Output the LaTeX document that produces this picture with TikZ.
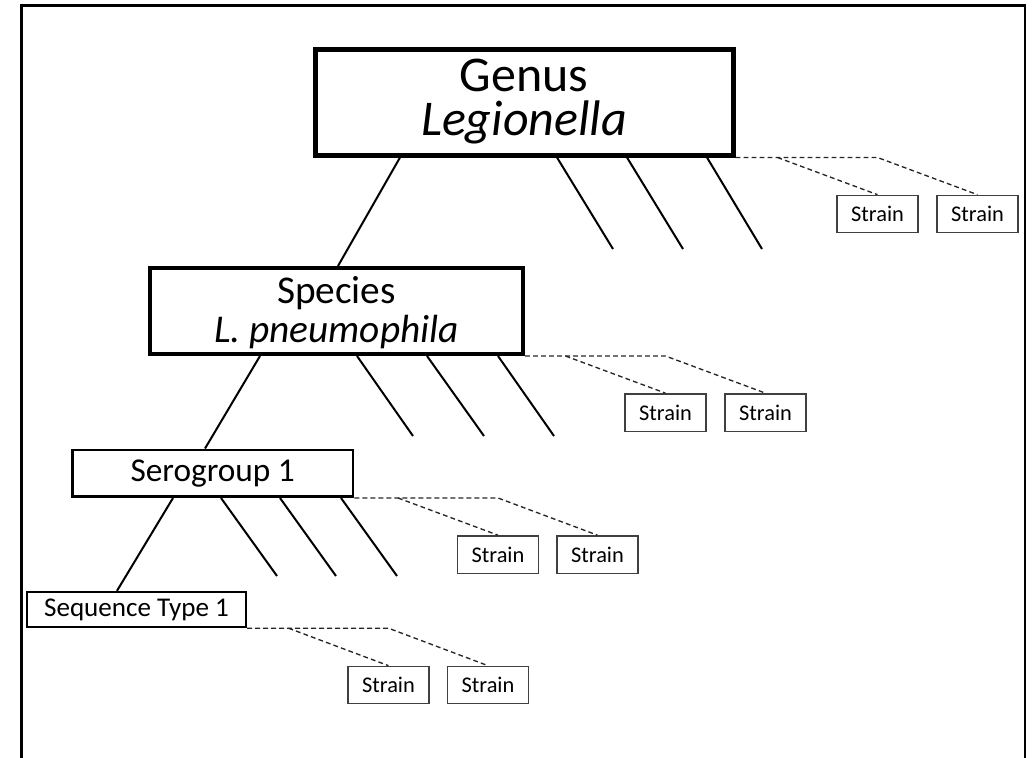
\documentclass[tikz,border=0pt]{standalone}
\usepackage{fontspec}
\setmainfont{Carlito}
\usetikzlibrary{calc}
\begin{document}
\begin{tikzpicture}[x=0.75pt,y=-0.75pt,
  level/.style={draw=black, rectangle, inner sep=0pt, align=center},
  strainbox/.style={draw=black!75, line width=1pt, rectangle, inner sep=0pt,
    minimum width=60.75pt, minimum height=28pt, font=\fontsize{16.8}{19}\selectfont},
  branch/.style={line width=1.5pt, black},
  dashline/.style={dash pattern=on 3.6pt off 2.4pt, line width=1pt, black!85}]
\useasboundingbox (0,0) rectangle (1035,757);
\begin{scope}
  \clip (0,0) rectangle (1035,757);
  \draw[line width=2pt] (21.5,770) -- (21.5,5.5) -- (1025,5.5) -- (1025,770);
\end{scope}

% level boxes
\node[level, line width=3.75pt, minimum width=313.5pt, minimum height=79.5pt,
  font=\fontsize{37.5}{33}\selectfont] (genus) at (524,102) {Genus\\\textit{Legionella}};
\node[level, line width=3pt, minimum width=279.75pt, minimum height=64.5pt,
  font=\fontsize{29.5}{28}\selectfont] (species) at (336.5,311)
  {\raisebox{-3pt}[\height][\depth]{\begin{tabular}{@{}c@{}}Species\\\textit{L. pneumophila}\end{tabular}}};
\node[level, line width=2.2pt, minimum width=210.4pt, minimum height=34.9pt,
  font=\fontsize{25}{28}\selectfont] (sero) at (212.75,473.25) {Serogroup 1};
\node[level, line width=1.8pt, minimum width=164.25pt, minimum height=26.25pt,
  font=\fontsize{20.3}{24}\selectfont] (seq) at (136.5,609.5) {Sequence Type 1};

% strain boxes
\node[strainbox] (gs1) at (877.5,214) {Strain};
\node[strainbox] (gs2) at (977.5,214) {Strain};
\node[strainbox] (ss1) at (665.5,412.5) {Strain};
\node[strainbox] (ss2) at (765.5,412.5) {Strain};
\node[strainbox] (os1) at (498,554.5) {Strain};
\node[strainbox] (os2) at (597.5,554.5) {Strain};
\node[strainbox] (qs1) at (388.5,685) {Strain};
\node[strainbox] (qs2) at (488,685) {Strain};

% free ends of the short branches
\coordinate (g1) at (613,249);
\coordinate (g2) at (683,249);
\coordinate (g3) at (762,249);
\coordinate (p1) at (413,436);
\coordinate (p2) at (484,436);
\coordinate (p3) at (554,436);
\coordinate (o1) at (277,576);
\coordinate (o2) at (336,576);
\coordinate (o3) at (397,576);

% main connectors
\draw[branch] (genus.south -| 400,0) -- (species.north -| 338,0);
\draw[branch] (species.south -| 260,0) -- (sero.north -| 205,0);
\draw[branch] (sero.south -| 173,0) -- (seq.north -| 117,0);

% short branches
\draw[branch] (genus.south -| 557,0) -- (g1);
\draw[branch] (genus.south -| 627,0) -- (g2);
\draw[branch] (genus.south -| 707,0) -- (g3);
\draw[branch] (species.south -| 357,0) -- (p1);
\draw[branch] (species.south -| 427,0) -- (p2);
\draw[branch] (species.south -| 498,0) -- (p3);
\draw[branch] (sero.south -| 221,0) -- (o1);
\draw[branch] (sero.south -| 280,0) -- (o2);
\draw[branch] (sero.south -| 341,0) -- (o3);

% dashed links to strains
\draw[dashline] (genus.south east) -- (genus.south east -| gs1.north) -- (gs2.north);
\draw[dashline] ($(genus.south east -| gs1.north)+(-100,0)$) -- (gs1.north);
\draw[dashline] (species.south east) -- (species.south east -| ss1.north) -- (ss2.north);
\draw[dashline] ($(species.south east -| ss1.north)+(-100,0)$) -- (ss1.north);
\draw[dashline] (sero.south east) -- (sero.south east -| os1.north) -- (os2.north);
\draw[dashline] ($(sero.south east -| os1.north)+(-100,0)$) -- (os1.north);
\draw[dashline] (seq.south east) -- (seq.south east -| qs1.north) -- (qs2.north);
\draw[dashline] ($(seq.south east -| qs1.north)+(-100,0)$) -- (qs1.north);
\end{tikzpicture}
\end{document}
